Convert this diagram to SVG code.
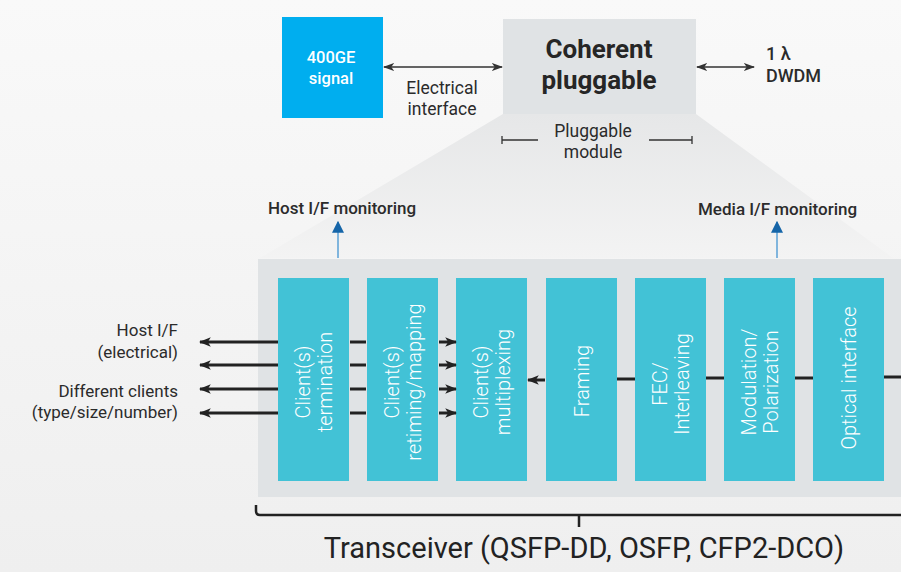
<svg xmlns="http://www.w3.org/2000/svg" width="901" height="572" viewBox="0 0 901 572">
  <defs>
    <linearGradient id="bg" x1="0" y1="0" x2="0" y2="1">
      <stop offset="0" stop-color="#f9f9f9"/>
      <stop offset="1" stop-color="#efefef"/>
    </linearGradient>
    <linearGradient id="cone" x1="0" y1="0" x2="0" y2="1">
      <stop offset="0" stop-color="#e6e7e8"/>
      <stop offset="1" stop-color="#f3f3f3"/>
    </linearGradient>
    <marker id="ah" viewBox="0 0 10 10" refX="9" refY="5" markerWidth="4" markerHeight="4" orient="auto-start-reverse" markerUnits="strokeWidth">
      <path d="M0,1 L10,5 L0,9 L2.5,5 Z" fill="#222"/>
    </marker>
    <marker id="ahThin" viewBox="0 0 10 10" refX="9" refY="5" markerWidth="7" markerHeight="7" orient="auto-start-reverse" markerUnits="strokeWidth">
      <path d="M0,1.5 L10,5 L0,8.5 L2.5,5 Z" fill="#333"/>
    </marker>
    <marker id="ahBlue" viewBox="0 0 10 10" refX="9" refY="5" markerWidth="8" markerHeight="8" orient="auto" markerUnits="strokeWidth">
      <path d="M0,0 L10,5 L0,10 Z" fill="#1565a8"/>
    </marker>
  </defs>
  <style>
    text { font-family: Roboto, "Liberation Sans", sans-serif; fill: #2b2b2b; }
    .lbl { font-size: 17.5px; }
    .side { font-size: 17px; }
    .mon { font-size: 17px; font-weight: 500; }
    .blk rect { fill: #42c2d6; }
    .blk text { fill: #ffffff; font-size: 20px; font-weight: 300; text-anchor: middle; }
    .wire { stroke: #222; stroke-width: 3; fill: none; }
    .thin { stroke: #333; stroke-width: 1.6; fill: none; }
    .mline { stroke: #5aa0d6; stroke-width: 1.5; fill: none; }
  </style>

  <!-- page background -->
  <rect x="0" y="0" width="901" height="572" fill="url(#bg)"/>

  <!-- expansion cone from the pluggable to the transceiver panel -->
  <polygon points="503,114 696,114 893,258 260,258" fill="url(#cone)"/>

  <!-- top row -->
  <g id="signal-400ge">
    <rect x="282" y="17" width="101" height="101" fill="#00aeef"/>
    <text x="331" y="63" text-anchor="middle" style="fill:#fff;font-size:16.5px;font-weight:500">400GE</text>
    <text x="331" y="84" text-anchor="middle" style="fill:#fff;font-size:16.5px;font-weight:500">signal</text>
  </g>

  <g id="coherent-pluggable">
    <rect x="503" y="19" width="193" height="95" fill="#e0e3e5"/>
    <text x="599" y="58" text-anchor="middle" style="font-size:26px;font-weight:700;fill:#262626">Coherent</text>
    <text x="599" y="89" text-anchor="middle" style="font-size:26px;font-weight:700;fill:#262626">pluggable</text>
  </g>

  <g id="electrical-interface-label">
    <text class="lbl" x="442" y="94" text-anchor="middle">Electrical</text>
    <text class="lbl" x="442" y="115" text-anchor="middle">interface</text>
  </g>

  <g id="dwdm-label">
    <text class="mon" x="766" y="60" style="font-size:18px">1 λ</text>
    <text class="mon" x="766" y="82" style="font-size:18px">DWDM</text>
  </g>

  <g id="pluggable-module-label">
    <text class="lbl" x="593" y="137" text-anchor="middle">Pluggable</text>
    <text class="lbl" x="593" y="158" text-anchor="middle">module</text>
    <path d="M502,136 V144 M502,140 H538 M649,140 H692 M692,136 V144" stroke="#333" stroke-width="1.3" fill="none"/>
  </g>

  <!-- transceiver panel -->
  <g id="transceiver-panel">
    <rect x="258" y="259" width="643" height="238" fill="#e0e3e5"/>
  </g>

  <g id="block-client-termination" class="blk">
    <rect x="278" y="278" width="71" height="203"/>
    <text transform="translate(313.5,382) rotate(-90)"><tspan x="0" y="-4">Client(s)</tspan><tspan x="0" y="18">termination</tspan></text>
  </g>
  <g id="block-client-retiming" class="blk">
    <rect x="367" y="278" width="71" height="203"/>
    <text transform="translate(402.5,382) rotate(-90)"><tspan x="0" y="-4">Client(s)</tspan><tspan x="0" y="18">retiming/mapping</tspan></text>
  </g>
  <g id="block-client-multiplexing" class="blk">
    <rect x="456" y="278" width="71" height="203"/>
    <text transform="translate(491.5,382) rotate(-90)"><tspan x="0" y="-4">Client(s)</tspan><tspan x="0" y="18">multiplexing</tspan></text>
  </g>
  <g id="block-framing" class="blk">
    <rect x="546" y="278" width="71" height="203"/>
    <text transform="translate(581.5,381) rotate(-90)"><tspan x="0" y="7">Framing</tspan></text>
  </g>
  <g id="block-fec" class="blk">
    <rect x="635" y="278" width="71" height="203"/>
    <text transform="translate(670.5,384) rotate(-90)"><tspan x="0" y="-4">FEC/</tspan><tspan x="0" y="18">Interleaving</tspan></text>
  </g>
  <g id="block-modulation" class="blk">
    <rect x="724" y="278" width="71" height="203"/>
    <text transform="translate(759.5,382) rotate(-90)"><tspan x="0" y="-4">Modulation/</tspan><tspan x="0" y="18">Polarization</tspan></text>
  </g>
  <g id="block-optical-interface" class="blk">
    <rect x="813" y="278" width="71" height="203"/>
    <text transform="translate(848.5,378) rotate(-90)"><tspan x="0" y="7">Optical interface</tspan></text>
  </g>

  <!-- labels around the panel -->
  <g id="host-if-label">
    <text class="side" x="178" y="336" text-anchor="end">Host I/F</text>
    <text class="side" x="178" y="358" text-anchor="end">(electrical)</text>
    <text class="side" x="178" y="397" text-anchor="end">Different clients</text>
    <text class="side" x="178" y="418" text-anchor="end">(type/size/number)</text>
  </g>
  <g id="host-monitoring-label">
    <text class="mon" x="268" y="214">Host I/F monitoring</text>
  </g>
  <g id="media-monitoring-label">
    <text class="mon" x="698" y="215">Media I/F monitoring</text>
  </g>

  <g id="transceiver-caption">
    <path d="M256,505 V511 Q256,515 260,515 H901 M579,515 V527" stroke="#222" stroke-width="2.5" fill="none"/>
    <text x="584" y="558" text-anchor="middle" style="font-size:29px;fill:#222">Transceiver (QSFP-DD, OSFP, CFP2-DCO)</text>
  </g>

  <!-- connectors -->
  <g id="connectors">
    <line class="thin" x1="384" y1="67" x2="502" y2="67" marker-start="url(#ahThin)" marker-end="url(#ahThin)"/>
    <line class="thin" x1="697" y1="67" x2="754" y2="67" marker-start="url(#ahThin)" marker-end="url(#ahThin)"/>

    <line class="mline" x1="338" y1="258" x2="338" y2="222" marker-end="url(#ahBlue)"/>
    <line class="mline" x1="777" y1="258" x2="777" y2="222" marker-end="url(#ahBlue)"/>

    <line class="wire" x1="278" y1="342" x2="200" y2="342" marker-end="url(#ah)"/>
    <line class="wire" x1="278" y1="365" x2="200" y2="365" marker-end="url(#ah)"/>
    <line class="wire" x1="278" y1="389" x2="200" y2="389" marker-end="url(#ah)"/>
    <line class="wire" x1="278" y1="413" x2="200" y2="413" marker-end="url(#ah)"/>

    <line class="wire" x1="350" y1="342" x2="366" y2="342"/>
    <line class="wire" x1="350" y1="365" x2="366" y2="365"/>
    <line class="wire" x1="350" y1="389" x2="366" y2="389"/>
    <line class="wire" x1="350" y1="413" x2="366" y2="413"/>

    <line class="wire" x1="439" y1="342" x2="456" y2="342" marker-end="url(#ah)"/>
    <line class="wire" x1="439" y1="365" x2="456" y2="365" marker-end="url(#ah)"/>
    <line class="wire" x1="439" y1="389" x2="456" y2="389" marker-end="url(#ah)"/>
    <line class="wire" x1="439" y1="413" x2="456" y2="413" marker-end="url(#ah)"/>

    <line class="wire" x1="545" y1="380" x2="528" y2="380" marker-end="url(#ah)"/>
    <line class="wire" x1="617" y1="379" x2="635" y2="379"/>
    <line class="wire" x1="706" y1="378" x2="724" y2="378"/>
    <line class="wire" x1="795" y1="378" x2="813" y2="378"/>
    <line class="wire" x1="884" y1="377" x2="901" y2="377"/>
  </g>
</svg>
